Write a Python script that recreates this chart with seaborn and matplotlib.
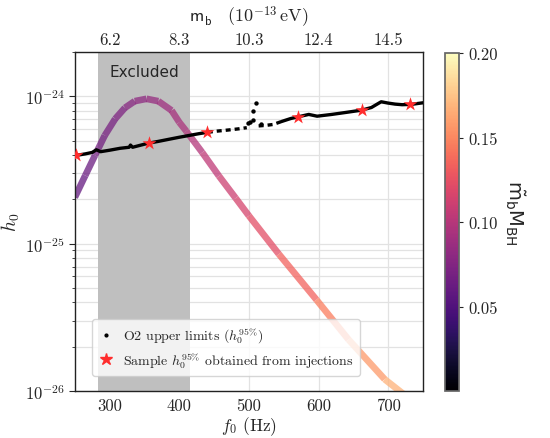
import numpy as np
import matplotlib
matplotlib.use("Agg")
import matplotlib.pyplot as plt
import seaborn as sns

from matplotlib.collections import LineCollection
from matplotlib.colors import Normalize
from matplotlib.cm import ScalarMappable
from matplotlib.lines import Line2D
from matplotlib.ticker import LogLocator, NullFormatter

sns.set_theme(style="ticks")
plt.rcParams["font.family"] = "serif"
plt.rcParams["font.serif"] = ["cmr10", "DejaVu Serif"]
plt.rcParams["mathtext.fontset"] = "cm"
plt.rcParams["axes.unicode_minus"] = False

# predicted signal curve (log10 h0) and its colour value m_b*M_BH
f_curve = [250, 265, 279, 293, 308, 322, 336, 353, 370, 389, 400, 410, 433,
           457, 481, 500, 543, 597, 643, 695, 730]
logh_curve = [-24.685, -24.537, -24.40, -24.265, -24.152, -24.077, -24.032,
              -24.016, -24.032, -24.095, -24.175, -24.235, -24.38, -24.54,
              -24.69, -24.81, -25.07, -25.38, -25.65, -25.92, -26.05]
mbmbh_curve = [0.0588, 0.0623, 0.0656, 0.0689, 0.0724, 0.0757, 0.0790, 0.0830,
               0.0870, 0.0914, 0.0940, 0.0964, 0.1018, 0.1074, 0.1130, 0.1175,
               0.1276, 0.1403, 0.1511, 0.1633, 0.1716]

# O2 upper limits, split where the search has gaps
f_o2_a = [252, 265, 275, 281, 287, 300, 315, 328, 330, 333, 355, 370, 386,
          400, 414, 428, 441]
logh_o2_a = [-24.40, -24.39, -24.38, -24.362, -24.375, -24.365, -24.352,
             -24.345, -24.33, -24.345, -24.318, -24.305, -24.29, -24.277,
             -24.265, -24.253, -24.243]
f_o2_b = [441, 455, 470, 485, 497]
logh_o2_b = [-24.243, -24.235, -24.228, -24.22, -24.212]
f_o2_pts = [499, 501, 506, 506, 510, 518]
logh_o2_pts = [-24.18, -24.175, -24.163, -24.10, -24.045, -24.19]
f_o2_c = [514, 525, 535, 547]
logh_o2_c = [-24.20, -24.196, -24.19, -24.17]
f_o2_d = [547, 560, 571, 586, 598, 619, 640, 662, 676, 690, 700, 710, 720,
          733, 750]
logh_o2_d = [-24.17, -24.15, -24.138, -24.122, -24.134, -24.122, -24.108,
             -24.093, -24.075, -24.036, -24.045, -24.052, -24.056, -24.054,
             -24.043]

# injection results
f_inj = [252, 356, 440, 571, 663, 732]
logh_inj = [-24.40, -24.315, -24.243, -24.138, -24.093, -24.052]

excluded = (283, 416)
top_ticks = [300, 400, 500, 600, 700]
top_labels = ["6.2", "8.3", "10.3", "12.4", "14.5"]
cbar_ticks = [0.05, 0.10, 0.15, 0.20]


def h(logs):
    return np.power(10.0, np.asarray(logs))


fig = plt.figure(figsize=(5.5, 4.39), dpi=100)
ax = fig.add_axes([0.136, 0.107, 0.633, 0.772])
cax = fig.add_axes([0.809, 0.107, 0.0255, 0.770])

ax.set_yscale("log")
ax.set_xlim(250, 750)
ax.set_ylim(1e-26, 2e-24)
ax.set_axisbelow(True)

ax.axvspan(*excluded, color="#bfbfbf", lw=0, zorder=1)
ax.text(sum(excluded) / 2, 0.944, "Excluded", transform=ax.get_xaxis_transform(),
        ha="center", va="center", fontsize=11, family="DejaVu Sans")

norm = Normalize(0.0, 0.2)
pts = np.column_stack([f_curve, h(logh_curve)])
segs = np.stack([pts[:-1], pts[1:]], axis=1)
lc = LineCollection(segs, cmap="magma", norm=norm, linewidths=4.8, alpha=0.75,
                    zorder=2)
c = np.asarray(mbmbh_curve)
lc.set_array((c[:-1] + c[1:]) / 2)
ax.add_collection(lc)

sns.lineplot(x=f_o2_a, y=h(logh_o2_a), color="black", lw=2.4, sort=False,
             estimator=None, ax=ax, zorder=3)
sns.lineplot(x=f_o2_b, y=h(logh_o2_b), color="black", lw=2.4, sort=False,
             estimator=None, ax=ax, zorder=3, linestyle=(0, (1.5, 1.2)))
sns.lineplot(x=f_o2_c, y=h(logh_o2_c), color="black", lw=2.4, sort=False,
             estimator=None, ax=ax, zorder=3, linestyle=(0, (1.5, 1.2)))
sns.lineplot(x=f_o2_d, y=h(logh_o2_d), color="black", lw=2.4, sort=False,
             estimator=None, ax=ax, zorder=3)
sns.scatterplot(x=f_o2_pts, y=h(logh_o2_pts), color="black", s=10, linewidth=0,
                ax=ax, zorder=3)
sns.scatterplot(x=f_inj, y=h(logh_inj), color="#ff2d2d", marker="*", s=110,
                linewidth=0, ax=ax, zorder=4)

ax.grid(True, which="major", axis="x", color="#e2e2e2", lw=0.9)
ax.grid(True, which="both", axis="y", color="#e2e2e2", lw=0.9)
ax.set_xticks(top_ticks)
ax.set_yticks([1e-26, 1e-25, 1e-24], labels=[r"$10^{-26}$", r"$10^{-25}$", r"$10^{-24}$"])
ax.yaxis.set_minor_locator(LogLocator(base=10, subs=np.arange(2, 10)))
ax.yaxis.set_minor_formatter(NullFormatter())
ax.tick_params(axis="x", labelsize=12, length=0, pad=5)
ax.tick_params(axis="y", which="major", labelsize=12, length=4, width=0.8)
ax.tick_params(axis="y", which="minor", length=2, width=0.6)
for s in ax.spines.values():
    s.set_color("#222222")
    s.set_linewidth(1.0)
ax.set_xlabel(r"$f_0$ (Hz)", fontsize=12.5, labelpad=1)
ax.set_ylabel(r"$h_0$", fontsize=14, labelpad=2)

handles = [
    Line2D([], [], marker=".", color="black", ls="", ms=4,
           label=r"O2 upper limits ($h_0^{95\%}$)"),
    Line2D([], [], marker="*", color="#ff2d2d", ls="", ms=9,
           label=r"Sample $h_0^{95\%}$ obtained from injections"),
]
ax.legend(handles=handles, loc="lower left", bbox_to_anchor=(0.049, 0.044),
          borderaxespad=0, fontsize=10, framealpha=0.8, edgecolor="#cccccc",
          handlelength=1.2, handletextpad=0.6, borderpad=0.45, labelspacing=0.35)

ax2 = ax.twiny()
ax2.set_xlim(ax.get_xlim())
ax2.set_xticks(top_ticks, labels=top_labels)
ax2.tick_params(axis="x", labelsize=12, length=0, pad=4)
ax2.set_xlabel(r"$\mathsf{m_b}\quad(10^{-13}\,\mathrm{eV})$", fontsize=13, labelpad=7)
for s in ax2.spines.values():
    s.set_visible(False)

cb = fig.colorbar(ScalarMappable(norm=norm, cmap="magma"), cax=cax)
cb.set_ticks(cbar_ticks, labels=["0.05", "0.10", "0.15", "0.20"])
cb.ax.tick_params(labelsize=12, length=3, width=0.8)
cb.outline.set_edgecolor("#666666")
fig.text(0.935, 0.515, r"$\tilde{\mathrm{m}}_\mathrm{b}\mathrm{M}_\mathrm{BH}$",
         rotation=270, ha="center", va="center", fontsize=14,
         math_fontfamily="dejavusans")

fig.savefig("out.png", dpi=100)
